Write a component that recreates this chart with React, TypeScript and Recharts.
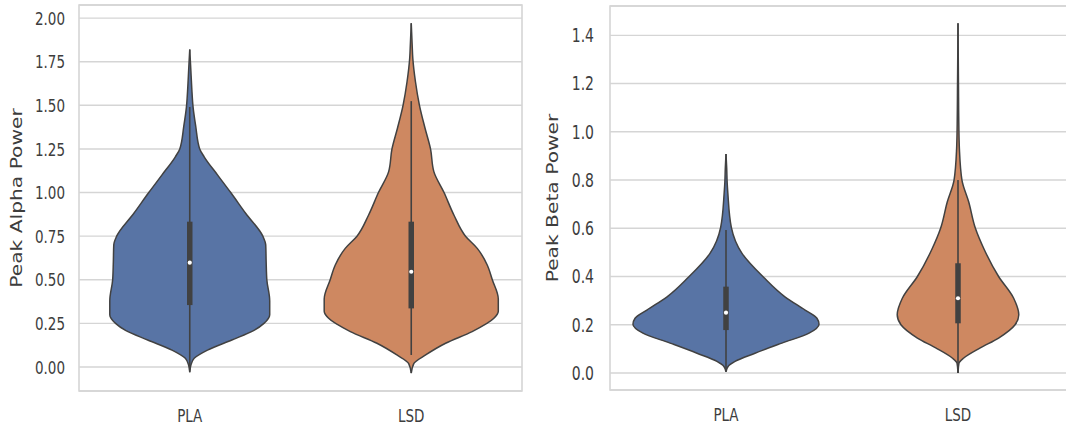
import React from 'react';
import {
  ComposedChart,
  Area,
  XAxis,
  YAxis,
  CartesianGrid,
  ReferenceLine,
  ReferenceDot,
  ReferenceArea,
} from 'recharts';

// ---------- data ----------
const categories = ['PLA', 'LSD'];

// Panel 1: Peak Alpha Power
const alphaTicks = [0, 0.25, 0.5, 0.75, 1, 1.25, 1.5, 1.75, 2];
const alphaDomain = [-0.1375, 2.075];
const alphaPlaLevels = [1.82, 1.7, 1.6, 1.49, 1.38, 1.25, 1.205, 1.1, 1.0, 0.88, 0.75, 0.7, 0.6, 0.5, 0.38, 0.3, 0.25, 0.21, 0.155, 0.097, 0.05, 0.01, -0.03];
const alphaPlaHalfWidths = [0, 0.005, 0.009, 0.015, 0.027, 0.045, 0.065, 0.126, 0.185, 0.253, 0.33, 0.343, 0.345, 0.348, 0.361, 0.361, 0.335, 0.29, 0.19, 0.08, 0.02, 0.005, 0];
const alphaLsdLevels = [1.97, 1.85, 1.77, 1.635, 1.5, 1.37, 1.25, 1.12, 1.0, 0.87, 0.75, 0.68, 0.585, 0.5, 0.39, 0.32, 0.279, 0.203, 0.136, 0.069, 0.021, -0.035];
const alphaLsdHalfWidths = [0, 0.004, 0.007, 0.019, 0.037, 0.062, 0.087, 0.102, 0.148, 0.193, 0.245, 0.298, 0.343, 0.366, 0.393, 0.393, 0.373, 0.275, 0.155, 0.065, 0.012, 0];
// [low whisker, q1, median, q3, high whisker]
const alphaPlaBox = [-0.02, 0.355, 0.598, 0.833, 1.49];
const alphaLsdBox = [0.069, 0.336, 0.546, 0.833, 1.524];

// Panel 2: Peak Beta Power
const betaTicks = [0, 0.2, 0.4, 0.6, 0.8, 1.0, 1.2, 1.4];
const betaDomain = [-0.0705, 1.5216];
const betaPlaLevels = [0.908, 0.85, 0.79, 0.745, 0.604, 0.496, 0.397, 0.316, 0.261, 0.227, 0.202, 0.165, 0.124, 0.082, 0.048, 0.027, 0.005];
const betaPlaHalfWidths = [0, 0.003, 0.005, 0.008, 0.023, 0.069, 0.162, 0.254, 0.341, 0.392, 0.401, 0.358, 0.241, 0.125, 0.039, 0.009, 0];
const betaLsdLevels = [1.45, 1.2, 1.0, 0.93, 0.8, 0.71, 0.6, 0.514, 0.4, 0.31, 0.241, 0.2, 0.145, 0.104, 0.062, 0.04, 0.0];
const betaLsdHalfWidths = [0, 0.002, 0.004, 0.006, 0.017, 0.046, 0.075, 0.112, 0.175, 0.24, 0.262, 0.246, 0.175, 0.096, 0.025, 0.004, 0];
const betaPlaBox = [0.01, 0.178, 0.25, 0.358, 0.593];
const betaLsdBox = [0.0, 0.206, 0.31, 0.455, 0.8];

// ---------- styles ----------
const COLORS = ['#5874a5', '#ce8861'];
const OUTLINE = '#414141';
const GRID = '#d5d5d5';
const TEXT = '#3d3d3d';
const FONT = '"DejaVu Sans", Verdana, sans-serif';
const STRETCH = 1.35;

type Violin = { key: string; center: number; levels: number[]; widths: number[] };

function buildRows(violins: Violin[]) {
  const rows: any[] = [];
  violins.forEach((vi) => {
    vi.levels.forEach((lv, i) => {
      const row: any = { v: lv };
      violins.forEach((o) => {
        row[o.key] = [null, null];
      });
      row[vi.key] = [vi.center - vi.widths[i], vi.center + vi.widths[i]];
      rows.push(row);
    });
  });
  rows.sort((a, b) => b.v - a.v);
  return rows;
}

const alphaRows = buildRows([
  { key: 'pla', center: 0, levels: alphaPlaLevels, widths: alphaPlaHalfWidths },
  { key: 'lsd', center: 1, levels: alphaLsdLevels, widths: alphaLsdHalfWidths },
]);
const betaRows = buildRows([
  { key: 'pla', center: 0, levels: betaPlaLevels, widths: betaPlaHalfWidths },
  { key: 'lsd', center: 1, levels: betaLsdLevels, widths: betaLsdHalfWidths },
]);

const makeYTick = (digits: number, fontSize: number) => (props: any) => {
  const { x, y, payload } = props;
  return (
    <g transform={`translate(${x},${y}) scale(1,${STRETCH})`}>
      <text x={0} y={0} dy="0.36em" textAnchor="end" fill={TEXT} fontSize={fontSize} fontFamily={FONT}>
        {Number(payload.value).toFixed(digits)}
      </text>
    </g>
  );
};

const XTick = (props: any) => {
  const { x, y, payload } = props;
  return (
    <g transform={`translate(${x},${y}) scale(1,${STRETCH})`}>
      <text x={0} y={22.6} textAnchor="middle" fill={TEXT} fontSize={13.5} fontFamily={FONT}>
        {categories[Math.round(payload.value)]}
      </text>
    </g>
  );
};

const makeYLabel = (text: string, offsetX: number) => (props: any) => {
  const vb = props.viewBox || {};
  const cx = (vb.x ?? 0) + offsetX;
  const cy = (vb.y ?? 0) + (vb.height ?? 0) / 2;
  return (
    <g transform={`translate(${cx},${cy}) rotate(-90) scale(${STRETCH},1)`}>
      <text x={0} y={0} dy="0.35em" textAnchor="middle" fill={TEXT} fontSize={15} fontFamily={FONT}>
        {text}
      </text>
    </g>
  );
};

function ViolinPanel(props: {
  rows: any[];
  width: number;
  margin: any;
  yWidth: number;
  tickMargin: number;
  domain: number[];
  ticks: number[];
  digits: number;
  tickFont: number;
  label: string;
  labelOffset: number;
  boxes: number[][];
}) {
  const { rows, width, margin, yWidth, tickMargin, domain, ticks, digits, tickFont, label, labelOffset, boxes } = props;
  const keys = ['pla', 'lsd'];
  return (
    <ComposedChart width={width} height={427} layout="vertical" data={rows} margin={margin}>
      <CartesianGrid horizontal vertical={false} stroke={GRID} strokeWidth={1.4} />
      <ReferenceArea
        x1={-0.5}
        x2={1.5}
        y1={domain[0]}
        y2={domain[1]}
        fill="none"
        stroke={GRID}
        strokeWidth={1.6}
        ifOverflow="visible"
      />
      <XAxis
        type="number"
        domain={[-0.5, 1.5]}
        ticks={[0, 1]}
        interval={0}
        allowDataOverflow
        height={30}
        axisLine={false}
        tickLine={false}
        tickSize={0}
        tickMargin={0}
        tick={XTick}
      />
      <YAxis
        type="number"
        dataKey="v"
        reversed
        domain={domain}
        ticks={ticks}
        interval={0}
        allowDataOverflow
        width={yWidth}
        axisLine={false}
        tickLine={false}
        tickSize={0}
        tickMargin={tickMargin}
        tick={makeYTick(digits, tickFont)}
        label={makeYLabel(label, labelOffset)}
      />
      {keys.map((k, i) => (
        <Area
          key={k}
          dataKey={k}
          type="monotoneY"
          connectNulls
          fill={COLORS[i]}
          fillOpacity={1}
          stroke={OUTLINE}
          strokeWidth={1.5}
          dot={false}
          activeDot={false}
          isAnimationActive={false}
        />
      ))}
      {boxes.map((b, i) => (
        <ReferenceLine
          key={`w${i}`}
          segment={[{ x: i, y: b[0] }, { x: i, y: b[4] }]}
          stroke={OUTLINE}
          strokeWidth={1.6}
          ifOverflow="visible"
        />
      ))}
      {boxes.map((b, i) => (
        <ReferenceLine
          key={`b${i}`}
          segment={[{ x: i, y: b[1] }, { x: i, y: b[3] }]}
          stroke={OUTLINE}
          strokeWidth={5.5}
          ifOverflow="visible"
        />
      ))}
      {boxes.map((b, i) => (
        <ReferenceDot key={`m${i}`} x={i} y={b[2]} r={2.1} fill="#ffffff" stroke="none" ifOverflow="visible" />
      ))}
    </ComposedChart>
  );
}

export default function App() {
  return (
    <div
      style={{
        position: 'fixed',
        left: 0,
        top: 0,
        width: 1066,
        height: 427,
        overflow: 'hidden',
        background: '#ffffff',
      }}
    >
      <div style={{ position: 'absolute', left: 0, top: 0 }}>
        <ViolinPanel
          rows={alphaRows}
          width={530}
          margin={{ top: 5, right: 8, bottom: 6, left: 0 }}
          yWidth={79}
          tickMargin={14}
          domain={alphaDomain}
          ticks={alphaTicks}
          digits={2}
          tickFont={13.5}
          label="Peak Alpha Power"
          labelOffset={16.5}
          boxes={[alphaPlaBox, alphaLsdBox]}
        />
      </div>
      <div style={{ position: 'absolute', left: 530, top: 0 }}>
        <ViolinPanel
          rows={betaRows}
          width={544}
          margin={{ top: 6, right: 0, bottom: 7, left: 0 }}
          yWidth={80}
          tickMargin={16}
          domain={betaDomain}
          ticks={betaTicks}
          digits={1}
          tickFont={14}
          label="Peak Beta Power"
          labelOffset={23}
          boxes={[betaPlaBox, betaLsdBox]}
        />
      </div>
    </div>
  );
}
